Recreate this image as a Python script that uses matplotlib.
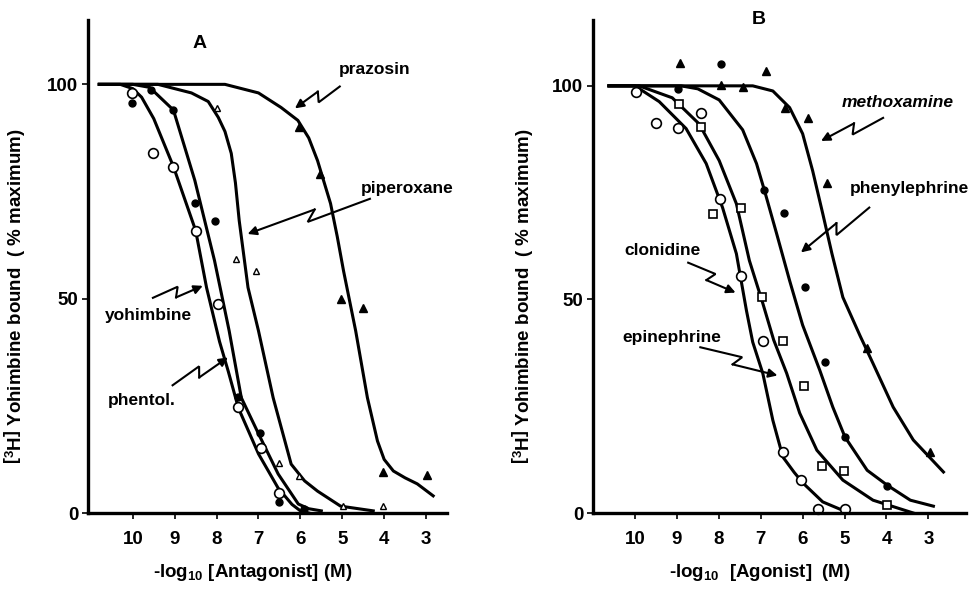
import numpy as np
import matplotlib
matplotlib.use('Agg')
import matplotlib.pyplot as plt

plt.rcParams['font.family'] = ['Liberation Sans', 'DejaVu Sans']
plt.rcParams['font.weight'] = 'bold'
plt.rcParams['axes.labelweight'] = 'bold'
plt.rcParams['mathtext.fontset'] = 'custom'
plt.rcParams['mathtext.rm'] = 'Liberation Sans:bold'
plt.rcParams['mathtext.it'] = 'Liberation Sans:bold'
plt.rcParams['mathtext.bf'] = 'Liberation Sans:bold'

# ---- panel A: antagonists ----
yoh_cx = [10.8, 10.3, 10.0, 9.79, 9.5, 9.03, 8.5, 8.24, 7.93, 7.72, 7.48, 7.0, 6.53, 6.2, 6.0, 5.8]
yoh_cy = [100, 100, 99, 97, 92, 80.8, 65.9, 52.6, 40, 33, 24.5, 13.8, 5.8, 2, 0.5, 0]
phen_cx = [10.8, 10.0, 9.6, 9.03, 8.52, 8.05, 7.7, 7.41, 7.0, 6.53, 6.05, 5.8, 5.5]
phen_cy = [100, 100, 99.3, 94, 77.6, 58.9, 42.5, 26.9, 18.5, 9.1, 2.1, 1, 0.5]
pip_cx = [10.8, 9.4, 8.6, 8.2, 7.96, 7.8, 7.65, 7.55, 7.46, 7.25, 7.0, 6.65, 6.22, 5.9, 5.59, 5.04, 4.26]
pip_cy = [100, 100, 98, 96, 92.3, 89, 83.9, 77, 68.2, 52.6, 42.5, 26.9, 11.4, 7.5, 5.1, 1.6, 0.5]
praz_cx = [10.8, 9.0, 7.8, 7.0, 6.46, 6.06, 5.8, 5.59, 5.28, 5.12, 4.97, 4.68, 4.4, 4.16, 4.0, 3.78, 3.5, 3.21, 2.83]
praz_cy = [100, 100, 100, 98, 94.6, 91.6, 87.5, 82.2, 72.2, 64.5, 56.5, 42.5, 26.9, 16.8, 12.5, 9.8, 8.2, 6.8, 4]

yoh_px = [10.02, 9.52, 9.03, 8.5, 7.96, 7.5, 6.94, 6.51]
yoh_py = [97.9, 83.9, 80.8, 65.7, 48.8, 24.8, 15.2, 4.7]
phen_px = [10.02, 9.57, 9.03, 8.52, 8.03, 7.5, 6.96, 6.51, 5.92]
phen_py = [95.6, 98.8, 94, 72.4, 68.2, 27.1, 18.7, 2.6, 0.9]
pip_px = [8.0, 7.53, 7.06, 6.51, 6.03, 4.99, 4.02]
pip_py = [94.6, 59.3, 56.5, 11.7, 8.6, 1.6, 1.6]
praz_px = [6.04, 5.52, 5.02, 4.5, 4.02, 2.98]
praz_py = [90, 79, 50, 47.9, 9.6, 8.9]

# ---- panel B: agonists ----
clon_cx = [10.62, 10.0, 9.42, 8.78, 8.3, 7.91, 7.58, 7.34, 7.19, 6.95, 6.71, 6.47, 6.2, 5.99, 5.52, 4.94]
clon_cy = [100, 100, 96.3, 90, 81.8, 71.5, 60.7, 47.4, 40, 32.7, 21.7, 13.1, 9.5, 7.0, 2.6, 0.2]
epi_cx = [10.62, 9.9, 9.11, 8.47, 7.99, 7.58, 7.27, 6.95, 6.69, 6.38, 6.07, 5.66, 5.04, 4.32, 3.36]
epi_cy = [100, 100, 97.2, 91.1, 82.5, 72.4, 59.1, 49.1, 40.5, 32.7, 23.4, 14.7, 7.7, 3.0, 0]
pheny_cx = [10.62, 8.9, 8.5, 7.99, 7.43, 7.1, 6.91, 6.62, 6.31, 6.0, 5.59, 5.28, 4.99, 4.46, 3.98, 3.43, 2.88]
pheny_cy = [100, 100, 99.3, 96.7, 89.7, 81.8, 75.5, 65.4, 54.4, 44, 33.4, 24.8, 17.8, 10, 6.5, 3.0, 1.6]
meth_cx = [10.62, 8.9, 7.19, 6.71, 6.31, 6.0, 5.76, 5.52, 5.3, 5.04, 4.63, 4.32, 3.84, 3.36, 2.64]
meth_cy = [100, 100, 100, 98.8, 94.9, 88.8, 80.1, 70.1, 60.7, 50.5, 41.5, 35.0, 24.8, 17.1, 9.6]

clon_px = [9.98, 9.5, 8.97, 8.42, 7.96, 7.48, 6.95, 6.47, 6.04, 5.64, 4.99]
clon_py = [98.6, 91.4, 90.2, 93.7, 73.6, 55.4, 40.2, 14.3, 7.7, 0.9, 0.9]
epi_px = [8.95, 8.42, 8.13, 7.46, 6.98, 6.47, 5.97, 5.54, 5.01, 3.98]
epi_py = [95.8, 90.4, 70.1, 71.3, 50.5, 40.2, 29.7, 11.0, 9.8, 1.9]
pheny_px = [7.94, 8.97, 6.93, 6.45, 5.95, 5.47, 4.99, 3.98]
pheny_py = [105.1, 99.3, 75.5, 70.3, 52.8, 35.3, 17.8, 6.3]
meth_px = [8.92, 7.94, 7.43, 6.88, 6.43, 5.88, 5.42, 4.46, 2.95]
meth_py = [105.4, 100.3, 99.8, 103.5, 94.9, 92.5, 77.3, 38.6, 14.3]

xticks = [10, 9, 8, 7, 6, 5, 4, 3]
yticks = [0, 50, 100]

fig = plt.figure(figsize=(9.69, 5.9), dpi=100)
axA = fig.add_axes([0.0908, 0.1305, 0.3705, 0.8355])
axB = fig.add_axes([0.612, 0.1305, 0.385, 0.8355])

def setup(ax, xlo, xhi, ytop, xlab, xl_pos, yl_x):
    ax.set_xlim(xlo, xhi)
    ax.set_ylim(0, ytop)
    for s in ['top', 'right']:
        ax.spines[s].set_visible(False)
    for s in ['left', 'bottom']:
        ax.spines[s].set_linewidth(2.4)
    ax.set_xticks(xticks)
    ax.set_xticklabels([str(t) for t in xticks])
    ax.set_yticks(yticks)
    ax.set_yticklabels([str(t) for t in yticks])
    ax.tick_params(axis='both', direction='out', length=4, width=1.2, labelsize=13.5, pad=9)
    ax.tick_params(axis='y', pad=3)
    ax.set_xlabel(xlab, fontsize=13.5)
    ax.xaxis.set_label_coords(xl_pos, -0.1)
    ax.set_ylabel(r'$\left[^{3}\mathrm{H}\right]$ Yohimbine bound  ( % maximum)', fontsize=13.5)
    ax.yaxis.set_label_coords(yl_x, 0.44)

def zigzag(ax, start, end, h=5):
    p0 = ax.transData.transform(start)
    p1 = ax.transData.transform(end)
    d = p1 - p0
    u = d / np.hypot(*d)
    n = np.array([-u[1], u[0]])
    pts = np.array([p0, p0 + 0.52 * d + h * n, p0 + 0.44 * d - h * n])
    pts = ax.transData.inverted().transform(pts)
    ax.plot(pts[:, 0], pts[:, 1], color='k', lw=1.5, solid_joinstyle='miter')
    ax.annotate('', xy=end, xytext=pts[2],
                arrowprops=dict(arrowstyle='-|>', color='k', lw=1.5, mutation_scale=13,
                                shrinkA=0, shrinkB=0))

lw = 2.2
setup(axA, 11.07, 2.5, 115, r'-log$_{10}$ $\left[\mathrm{Antagonist}\right]$ (M)', 0.46, -0.17)
axA.plot(yoh_cx, yoh_cy, color='k', lw=lw)
axA.plot(phen_cx, phen_cy, color='k', lw=lw)
axA.plot(pip_cx, pip_cy, color='k', lw=lw)
axA.plot(praz_cx, praz_cy, color='k', lw=lw)
axA.plot(yoh_px, yoh_py, 'o', ms=7, mfc='white', mec='k', mew=1.2, clip_on=False)
axA.plot(phen_px, phen_py, 'o', ms=5, color='k', clip_on=False)
axA.plot(pip_px, pip_py, '^', ms=5, mfc='white', mec='k', mew=1.0, clip_on=False)
axA.plot(praz_px, praz_py, '^', ms=6, color='k', clip_on=False)
axA.text(8.4, 109.5, 'A', fontsize=14, ha='center', va='center')
axA.text(4.22, 103.5, 'prazosin', fontsize=12.5, ha='center', va='center')
axA.text(3.44, 75.8, 'piperoxane', fontsize=12.5, ha='center', va='center')
axA.text(9.62, 46, 'yohimbine', fontsize=12.5, ha='center', va='center')
axA.text(9.79, 26.3, 'phentol.', fontsize=12.5, ha='center', va='center')
zigzag(axA, (5.06, 99.5), (6.13, 94.4))
zigzag(axA, (4.34, 73.3), (7.26, 65.1))
zigzag(axA, (9.52, 50.2), (8.33, 53.0))
zigzag(axA, (9.05, 29.8), (7.73, 36.3))

setup(axB, 11.0, 2.1, 115.4, r'-log$_{10}$  $\left[\mathrm{Agonist}\right]$  (M)', 0.448, -0.155)
axB.plot(clon_cx, clon_cy, color='k', lw=lw)
axB.plot(epi_cx, epi_cy, color='k', lw=lw)
axB.plot(pheny_cx, pheny_cy, color='k', lw=lw)
axB.plot(meth_cx, meth_cy, color='k', lw=lw)
axB.plot(clon_px, clon_py, 'o', ms=7, mfc='white', mec='k', mew=1.2, clip_on=False)
axB.plot(epi_px, epi_py, 's', ms=6, mfc='white', mec='k', mew=1.2, clip_on=False)
axB.plot(pheny_px, pheny_py, 'o', ms=5, color='k', clip_on=False)
axB.plot(meth_px, meth_py, '^', ms=6, color='k', clip_on=False)
axB.text(7.05, 115.6, 'B', fontsize=14, ha='center', va='center')
axB.text(3.74, 96, 'methoxamine', fontsize=12.5, ha='center', va='center', style='italic')
axB.text(3.45, 75.9, 'phenylephrine', fontsize=12.5, ha='center', va='center')
axB.text(9.35, 61.4, 'clonidine', fontsize=12.5, ha='center', va='center')
axB.text(9.11, 41.1, 'epinephrine', fontsize=12.5, ha='center', va='center')
zigzag(axB, (4.08, 92.5), (5.56, 87.1))
zigzag(axB, (4.41, 71.5), (6.04, 61.0))
zigzag(axB, (8.73, 58.6), (7.6, 51.6))
zigzag(axB, (8.44, 38.8), (6.6, 32.2))

fig.savefig('out.png', dpi=100)
